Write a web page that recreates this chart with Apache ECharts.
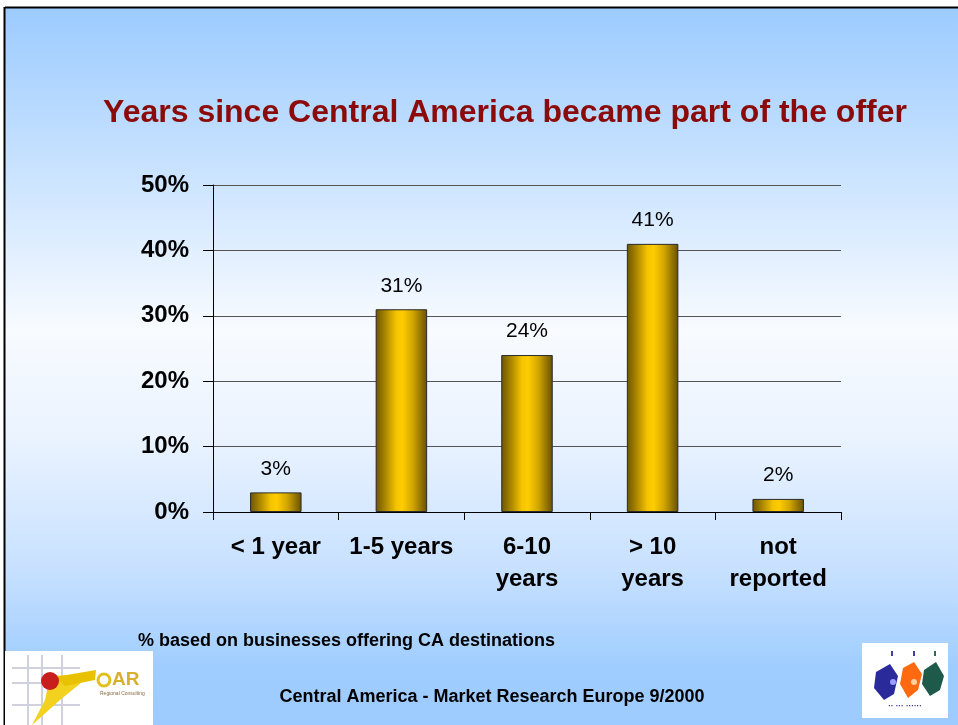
<!DOCTYPE html>
<html>
<head>
<meta charset="utf-8">
<script src="https://cdn.jsdelivr.net/npm/echarts@6/dist/echarts.min.js"></script>
<style>
  html, body { margin: 0; padding: 0; background: #ffffff; }
  #chart { width: 958px; height: 725px; }
</style>
</head>
<body>
<div id="chart"></div>
<script>
// Share of businesses by years since Central America joined their offer
const categories = ['< 1 year', '1-5 years', '6-10\nyears', '> 10\nyears', 'not\nreported'];
const shares = [3, 31, 24, 41, 2];
const tickValues = [0, 10, 20, 30, 40, 50];

const chart = echarts.init(document.getElementById('chart'), null, { renderer: 'canvas' });

const barFill = new echarts.graphic.LinearGradient(0, 0, 1, 0, [
  { offset: 0, color: '#6b5400' },
  { offset: 0.18, color: '#a88400' },
  { offset: 0.4, color: '#f5c400' },
  { offset: 0.52, color: '#ffcc00' },
  { offset: 0.72, color: '#d2a600' },
  { offset: 1, color: '#665000' }
]);

const pageFill = new echarts.graphic.LinearGradient(0, 0, 0, 1, [
  { offset: 0, color: '#9ccbff' },
  { offset: 0.2, color: '#c4e0ff' },
  { offset: 0.45, color: '#f8fbff' },
  { offset: 0.6, color: '#eaf3ff' },
  { offset: 0.78, color: '#c8e1ff' },
  { offset: 0.92, color: '#9fcdff' },
  { offset: 1, color: '#9ecbff' }
]);

const FONT = '"Liberation Sans", Arial, sans-serif';

// Small logo drawings in the footer corners
const leftLogo = [
  { type: 'rect', shape: { x: 5, y: 651, width: 148, height: 74 }, style: { fill: '#ffffff' } },
  { type: 'line', shape: { x1: 28, y1: 655, x2: 28, y2: 725 }, style: { stroke: '#d0d0de', lineWidth: 2 } },
  { type: 'line', shape: { x1: 42, y1: 655, x2: 42, y2: 725 }, style: { stroke: '#d0d0de', lineWidth: 2 } },
  { type: 'line', shape: { x1: 62, y1: 655, x2: 62, y2: 725 }, style: { stroke: '#d0d0de', lineWidth: 2 } },
  { type: 'line', shape: { x1: 12, y1: 668, x2: 80, y2: 668 }, style: { stroke: '#d0d0de', lineWidth: 2 } },
  { type: 'line', shape: { x1: 12, y1: 683, x2: 80, y2: 683 }, style: { stroke: '#d0d0de', lineWidth: 2 } },
  { type: 'line', shape: { x1: 12, y1: 705, x2: 80, y2: 705 }, style: { stroke: '#d0d0de', lineWidth: 2 } },
  { type: 'polygon', shape: { points: [[50, 676], [92, 674], [60, 700], [32, 725], [45, 700]] }, style: { fill: '#f2d21e' } },
  { type: 'polygon', shape: { points: [[55, 677], [96, 670], [95, 680], [65, 686]] }, style: { fill: '#e8c200' } },
  { type: 'circle', shape: { cx: 50, cy: 681, r: 9 }, style: { fill: '#c81e1e' } },
  { type: 'circle', shape: { cx: 104, cy: 680, r: 6 }, style: { fill: 'none', stroke: '#e0c020', lineWidth: 3 } },
  { type: 'text', style: { x: 112, y: 680, text: 'AR', fill: '#d8b030', font: 'bold 19px ' + FONT, textVerticalAlign: 'middle' } },
  { type: 'text', style: { x: 100, y: 694, text: 'Regional Consulting', fill: '#8a6a40', font: '5px ' + FONT, textVerticalAlign: 'middle' } }
];

const rightLogo = [
  { type: 'rect', shape: { x: 862, y: 643, width: 86, height: 75 }, style: { fill: '#ffffff' } },
  { type: 'polygon', shape: { points: [[876, 672], [890, 664], [898, 676], [894, 694], [884, 700], [874, 688]] }, style: { fill: '#2a2a9a' } },
  { type: 'polygon', shape: { points: [[903, 668], [914, 662], [922, 674], [918, 690], [908, 698], [900, 684]] }, style: { fill: '#ff6a10' } },
  { type: 'polygon', shape: { points: [[924, 670], [936, 662], [944, 676], [940, 690], [930, 696], [922, 684]] }, style: { fill: '#1e5a4a' } },
  { type: 'circle', shape: { cx: 893, cy: 682, r: 3 }, style: { fill: '#9aa0ff' } },
  { type: 'circle', shape: { cx: 914, cy: 682, r: 3 }, style: { fill: '#ffd0a0' } },
  { type: 'rect', shape: { x: 891, y: 651, width: 2, height: 5 }, style: { fill: '#4040a0' } },
  { type: 'rect', shape: { x: 913, y: 651, width: 2, height: 5 }, style: { fill: '#4040a0' } },
  { type: 'rect', shape: { x: 934, y: 651, width: 2, height: 5 }, style: { fill: '#2a6a5a' } },
  { type: 'text', style: { x: 905, y: 706, text: '\u00b7\u00b7 \u00b7\u00b7\u00b7 \u00b7\u00b7\u00b7\u00b7\u00b7\u00b7', fill: '#30308a', font: 'bold 8px sans-serif', textAlign: 'center', textVerticalAlign: 'middle' } }
];

chart.setOption({
  backgroundColor: '#ffffff',
  animation: false,
  title: {
    text: 'Years since Central America became part of the offer',
    left: 500,
    textAlign: 'center',
    top: 92,
    textStyle: {
      color: '#8b0a0a',
      fontFamily: FONT,
      fontWeight: 'bold',
      fontSize: 32
    }
  },
  grid: { left: 213, right: 117, top: 185, bottom: 213, containLabel: false },
  xAxis: {
    type: 'category',
    data: categories,
    axisLine: { lineStyle: { color: '#000000', width: 1 } },
    axisTick: { show: true, length: 8, lineStyle: { color: '#000000' } },
    axisLabel: {
      color: '#000000',
      fontFamily: FONT,
      fontWeight: 'bold',
      fontSize: 24,
      lineHeight: 32,
      margin: 19,
      interval: 0
    }
  },
  yAxis: {
    type: 'value',
    min: 0,
    max: 50,
    interval: 10,
    axisLine: { show: true, lineStyle: { color: '#000000', width: 1 } },
    axisTick: { show: true, length: 10, lineStyle: { color: '#000000' } },
    splitLine: { show: true, lineStyle: { color: '#555555', width: 1 } },
    axisLabel: {
      color: '#000000',
      fontFamily: FONT,
      fontWeight: 'bold',
      fontSize: 24,
      margin: 24,
      formatter: function (v) { return tickValues.indexOf(v) >= 0 ? v + '%' : ''; }
    }
  },
  series: [{
    type: 'bar',
    data: shares,
    barWidth: '41%',
    itemStyle: { color: barFill, borderColor: '#2a2a2a', borderWidth: 1 },
    label: {
      show: true,
      position: 'top',
      distance: 13,
      color: '#000000',
      fontFamily: FONT,
      fontSize: 21,
      formatter: function (p) { return p.value + '%'; }
    }
  }],
  graphic: [
    { type: 'rect', z: -100, silent: true, shape: { x: 5, y: 8, width: 953, height: 717 }, style: { fill: pageFill } },
    { type: 'line', z: -90, silent: true, shape: { x1: 5, y1: 7.5, x2: 958, y2: 7.5 }, style: { stroke: '#000000', lineWidth: 2 } },
    { type: 'line', z: -90, silent: true, shape: { x1: 4.5, y1: 7, x2: 4.5, y2: 725 }, style: { stroke: '#000000', lineWidth: 2 } },
    { type: 'group', z: -80, silent: true, children: leftLogo },
    { type: 'group', z: -80, silent: true, children: rightLogo },
    {
      type: 'text', silent: true,
      style: { x: 138, y: 641, text: '% based on businesses offering CA destinations', fill: '#000000',
        font: 'bold 18px ' + FONT, textVerticalAlign: 'middle' }
    },
    {
      type: 'text', silent: true,
      style: { x: 492, y: 697, text: 'Central America - Market Research Europe 9/2000', fill: '#000000',
        font: 'bold 18px ' + FONT, textAlign: 'center', textVerticalAlign: 'middle' }
    }
  ]
});
</script>
</body>
</html>
